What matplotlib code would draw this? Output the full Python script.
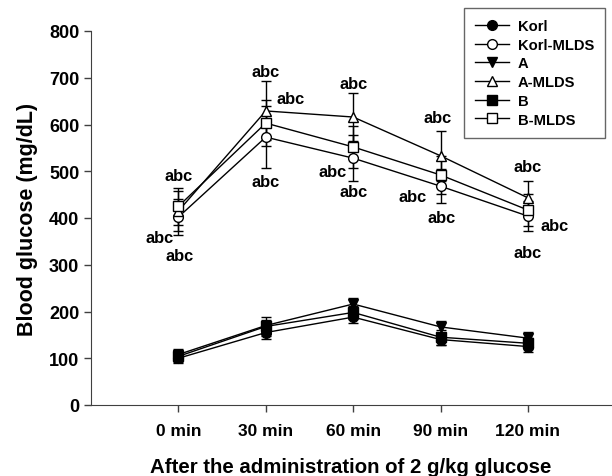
import numpy as np
import matplotlib.pyplot as plt

plt.rcParams['font.family'] = ['Liberation Sans', 'DejaVu Sans']
plt.rcParams['font.weight'] = 'bold'

# time points
times = ['0 min', '30 min', '60 min', '90 min', '120 min']

# mean blood glucose (mg/dL) and error per group
korl = [100, 155, 188, 140, 125]
korl_err = [10, 14, 13, 12, 11]
korl_mlds = [402, 573, 528, 468, 404]
korl_mlds_err = [38, 66, 49, 36, 32]
a = [108, 170, 216, 167, 143]
a_err = [12, 12, 12, 12, 13]
a_mlds = [415, 629, 616, 533, 443]
a_mlds_err = [43, 63, 51, 53, 36]
b = [104, 168, 198, 145, 132]
b_err = [12, 20, 14, 16, 12]
b_mlds = [425, 603, 552, 492, 417]
b_mlds_err = [39, 50, 45, 40, 34]

# significance labels (x index, y value)
sig_x = [0, -0.22, 0.01, 1, 1.28, 1, 2, 1.76, 2.01, 2.97, 2.68, 3.01, 4, 4.3, 4]
sig_y = [490, 359, 319, 714, 655, 479, 687, 500, 456, 616, 445, 402, 511, 385, 327]

x = np.arange(len(times))

fig = plt.figure(figsize=(6.12, 4.77), dpi=100)
ax = fig.add_axes([91 / 612, 1 - 406 / 477, (611 - 91) / 612, (406 - 32) / 477])

series = [
    ('Korl', korl, korl_err, 'o', 'black'),
    ('Korl-MLDS', korl_mlds, korl_mlds_err, 'o', 'white'),
    ('A', a, a_err, 'v', 'black'),
    ('A-MLDS', a_mlds, a_mlds_err, '^', 'white'),
    ('B', b, b_err, 's', 'black'),
    ('B-MLDS', b_mlds, b_mlds_err, 's', 'white'),
]
handles = []
for name, vals, errs, m, fc in series:
    cont = ax.errorbar(x, vals, yerr=errs, color='black', lw=1, marker=m, ms=7,
                       mfc=fc, mec='black', mew=1, capsize=3.8, capthick=1,
                       elinewidth=1, label=name)
    handles.append(cont[0])

for sx, sy in zip(sig_x, sig_y):
    ax.text(sx, sy, 'abc', ha='center', va='center', fontsize=11.8, fontweight='bold')

ax.set_xlim(-1, 4.95)
ax.set_ylim(0, 800)
ax.set_xticks(x)
ax.set_xticklabels(times, fontsize=12.5, fontweight='bold')
ax.set_yticks(range(0, 801, 100))
ax.tick_params(axis='y', labelsize=13, direction='out', length=5, color='#404040', width=1)
ax.tick_params(axis='x', direction='out', length=5, color='#404040', width=1, pad=8)
for lab in ax.get_yticklabels():
    lab.set_fontweight('bold')
ax.spines['top'].set_visible(False)
ax.spines['right'].set_visible(False)
ax.spines['left'].set_color('#404040')
ax.spines['bottom'].set_color('#404040')

ax.set_ylabel('Blood glucose (mg/dL)', fontsize=15.5, fontweight='bold', labelpad=8)
ax.set_xlabel('After the administration of 2 g/kg glucose', fontsize=14.7,
              fontweight='bold', labelpad=14)

leg = ax.legend(handles=handles, labels=[s[0] for s in series],
                loc='upper left', bbox_to_anchor=(464 / 612, 1 - 9 / 477),
                bbox_transform=fig.transFigure, fontsize=10.6, frameon=True,
                fancybox=False, edgecolor='#404040', handlelength=2.3,
                handletextpad=0.6, labelspacing=0.32, borderpad=0.75,
                borderaxespad=0)
leg.get_frame().set_linewidth(1)
for t in leg.get_texts():
    t.set_fontweight('bold')

fig.savefig('out.png', dpi=100)
